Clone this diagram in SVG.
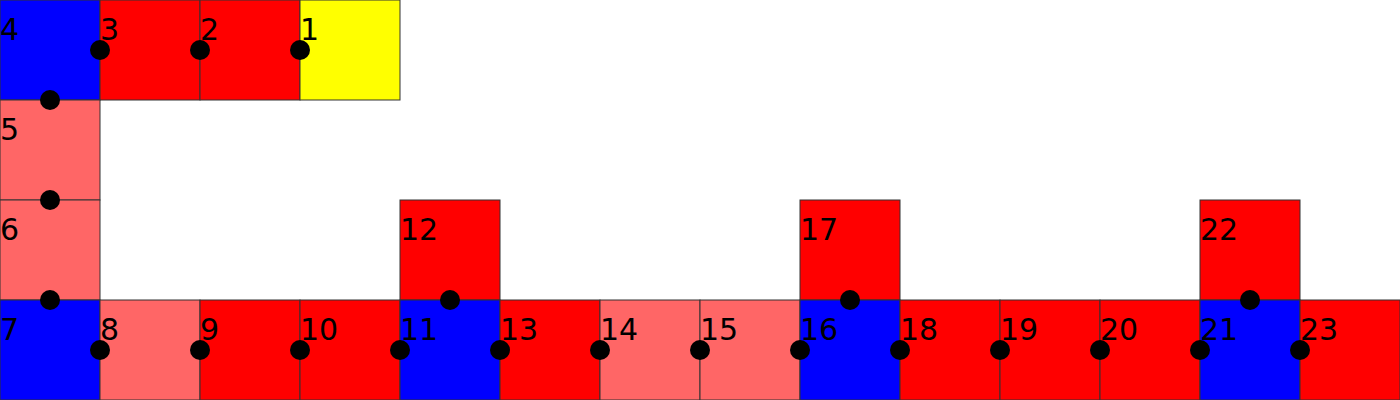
<svg xmlns="http://www.w3.org/2000/svg" width="1400" height="400" viewBox="0 0 1400 400">
<style>
rect{stroke:#333;stroke-width:1}
.b{fill:#0000ff}.r{fill:#ff0000}.l{fill:#ff6666}.y{fill:#ffff00}
text{font-family:"DejaVu Sans",sans-serif;font-size:30px;fill:#000}
.d{fill:#000}
</style>
<g id="n4"><rect class="b" x="0" y="0" width="100" height="100"/><text x="0" y="40">4</text></g>
<g id="n3"><rect class="r" x="100" y="0" width="100" height="100"/><text x="100" y="40">3</text></g>
<g id="n2"><rect class="r" x="200" y="0" width="100" height="100"/><text x="200" y="40">2</text></g>
<g id="n1"><rect class="y" x="300" y="0" width="100" height="100"/><text x="300" y="40">1</text></g>
<g id="n5"><rect class="l" x="0" y="100" width="100" height="100"/><text x="0" y="140">5</text></g>
<g id="n6"><rect class="l" x="0" y="200" width="100" height="100"/><text x="0" y="240">6</text></g>
<g id="n12"><rect class="r" x="400" y="200" width="100" height="100"/><text x="400" y="240">12</text></g>
<g id="n17"><rect class="r" x="800" y="200" width="100" height="100"/><text x="800" y="240">17</text></g>
<g id="n22"><rect class="r" x="1200" y="200" width="100" height="100"/><text x="1200" y="240">22</text></g>
<g id="n7"><rect class="b" x="0" y="300" width="100" height="100"/><text x="0" y="340">7</text></g>
<g id="n8"><rect class="l" x="100" y="300" width="100" height="100"/><text x="100" y="340">8</text></g>
<g id="n9"><rect class="r" x="200" y="300" width="100" height="100"/><text x="200" y="340">9</text></g>
<g id="n10"><rect class="r" x="300" y="300" width="100" height="100"/><text x="300" y="340">10</text></g>
<g id="n11"><rect class="b" x="400" y="300" width="100" height="100"/><text x="400" y="340">11</text></g>
<g id="n13"><rect class="r" x="500" y="300" width="100" height="100"/><text x="500" y="340">13</text></g>
<g id="n14"><rect class="l" x="600" y="300" width="100" height="100"/><text x="600" y="340">14</text></g>
<g id="n15"><rect class="l" x="700" y="300" width="100" height="100"/><text x="700" y="340">15</text></g>
<g id="n16"><rect class="b" x="800" y="300" width="100" height="100"/><text x="800" y="340">16</text></g>
<g id="n18"><rect class="r" x="900" y="300" width="100" height="100"/><text x="900" y="340">18</text></g>
<g id="n19"><rect class="r" x="1000" y="300" width="100" height="100"/><text x="1000" y="340">19</text></g>
<g id="n20"><rect class="r" x="1100" y="300" width="100" height="100"/><text x="1100" y="340">20</text></g>
<g id="n21"><rect class="b" x="1200" y="300" width="100" height="100"/><text x="1200" y="340">21</text></g>
<g id="n23"><rect class="r" x="1300" y="300" width="100" height="100"/><text x="1300" y="340">23</text></g>
<g id="connectors">
<circle class="d" cx="100" cy="50" r="10"/><circle class="d" cx="200" cy="50" r="10"/><circle class="d" cx="300" cy="50" r="10"/>
<circle class="d" cx="50" cy="100" r="10"/><circle class="d" cx="50" cy="200" r="10"/><circle class="d" cx="50" cy="300" r="10"/>
<circle class="d" cx="450" cy="300" r="10"/><circle class="d" cx="850" cy="300" r="10"/><circle class="d" cx="1250" cy="300" r="10"/>
<circle class="d" cx="100" cy="350" r="10"/><circle class="d" cx="200" cy="350" r="10"/><circle class="d" cx="300" cy="350" r="10"/>
<circle class="d" cx="400" cy="350" r="10"/><circle class="d" cx="500" cy="350" r="10"/><circle class="d" cx="600" cy="350" r="10"/>
<circle class="d" cx="700" cy="350" r="10"/><circle class="d" cx="800" cy="350" r="10"/><circle class="d" cx="900" cy="350" r="10"/>
<circle class="d" cx="1000" cy="350" r="10"/><circle class="d" cx="1100" cy="350" r="10"/><circle class="d" cx="1200" cy="350" r="10"/>
<circle class="d" cx="1300" cy="350" r="10"/>
</g>
</svg>
